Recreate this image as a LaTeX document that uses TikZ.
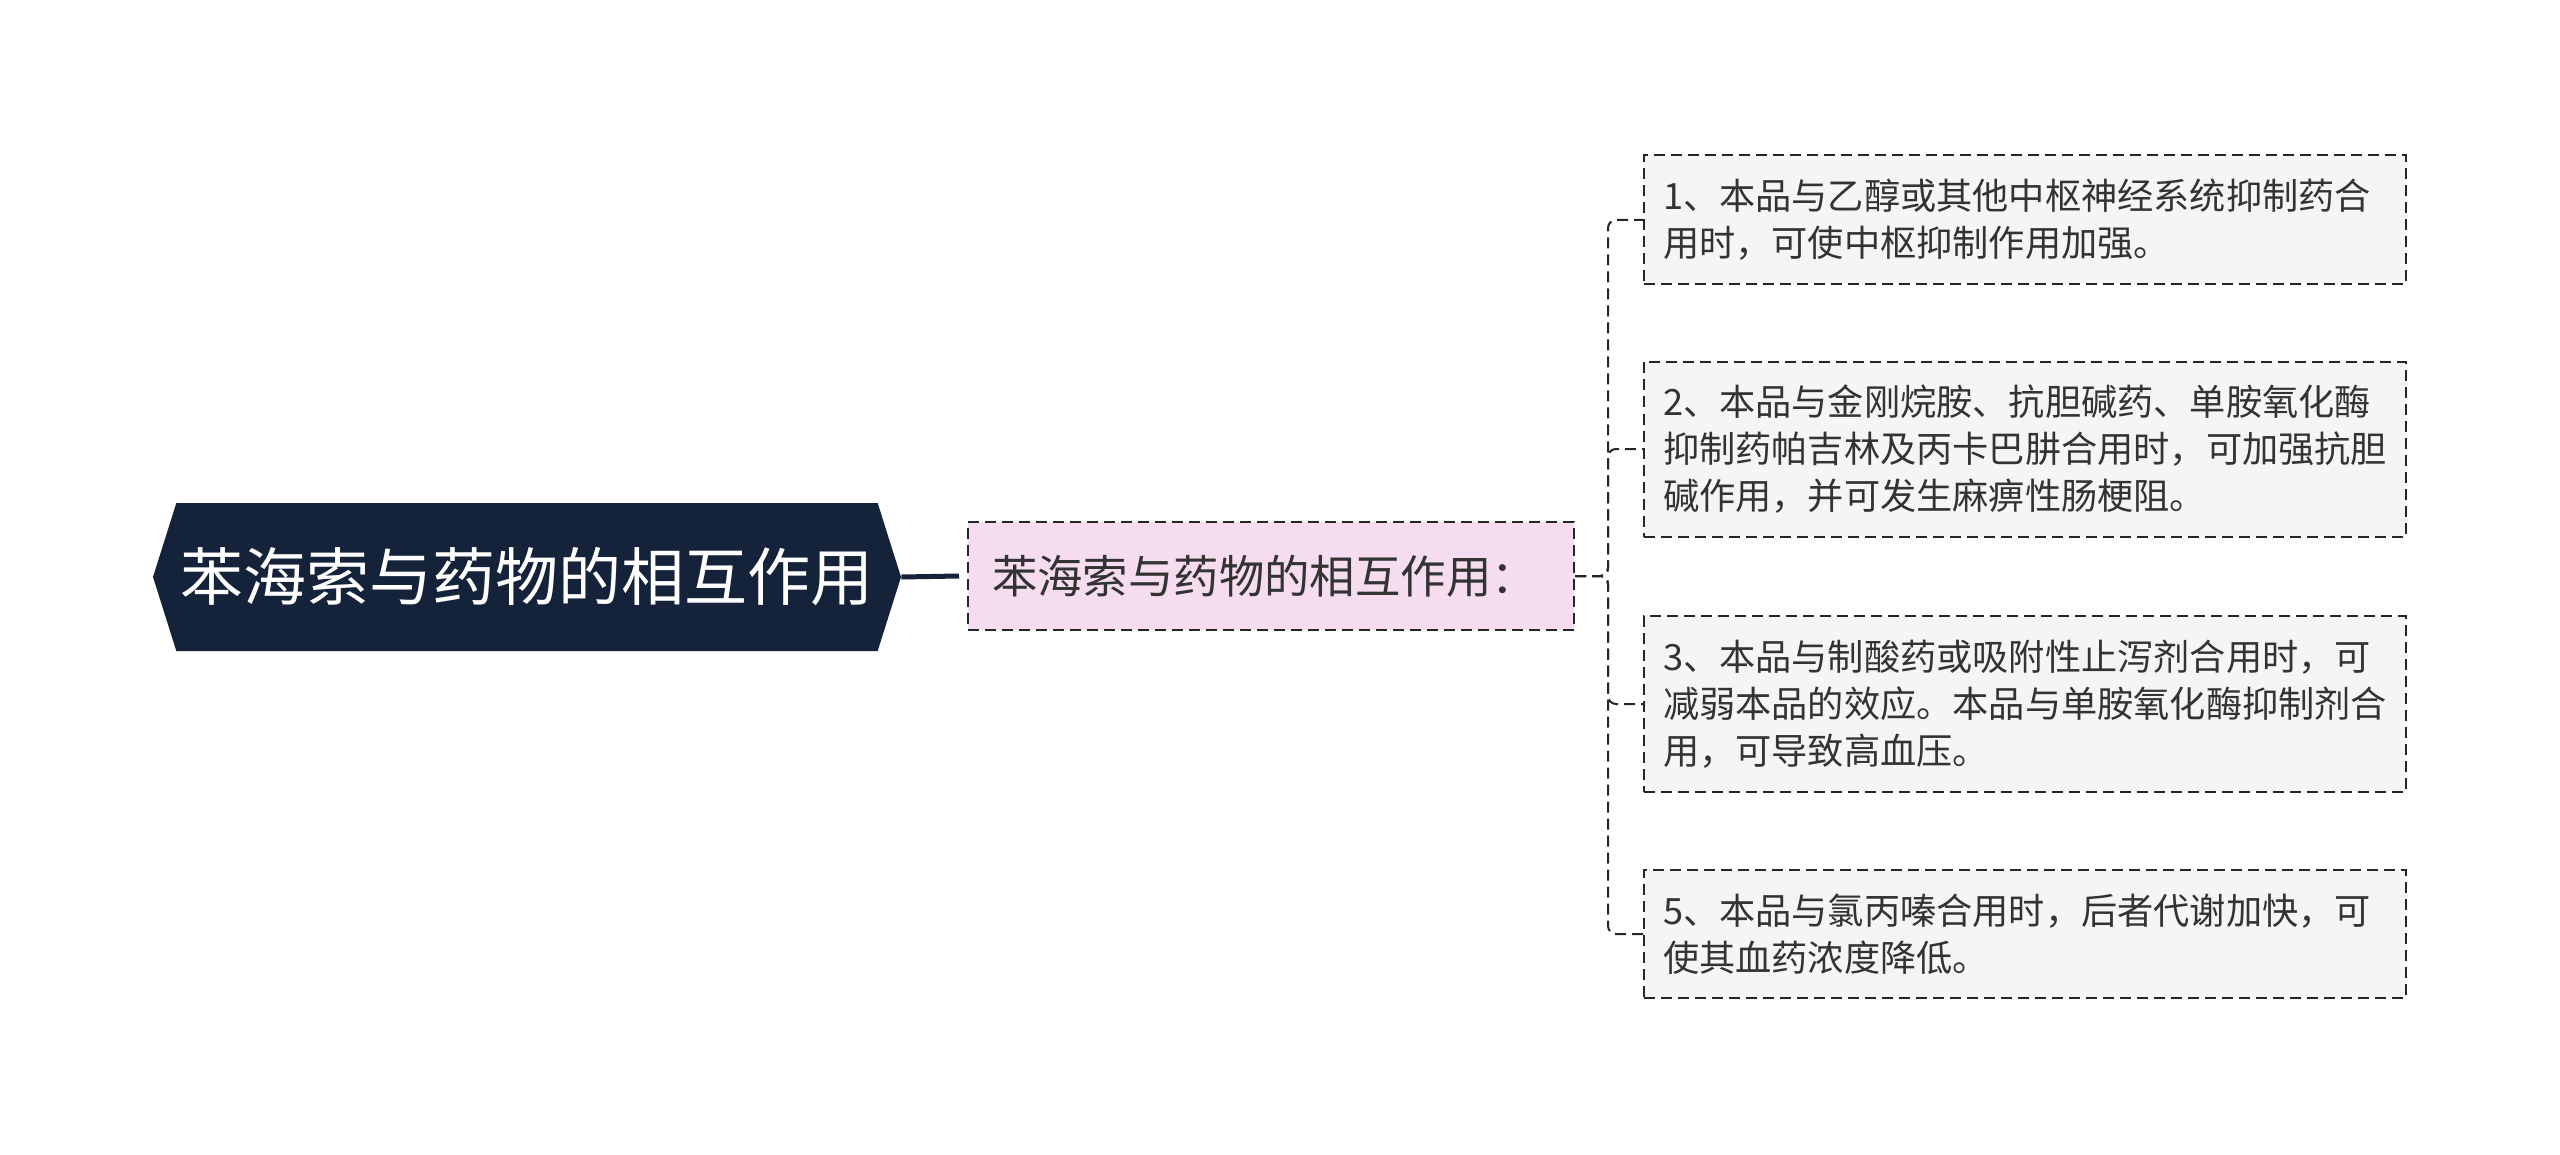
\documentclass[tikz,border=0pt]{standalone}
\usepackage{fontspec}
\newfontfamily\cjk{Noto Sans CJK SC}
\usetikzlibrary{shapes.symbols}
\definecolor{rootfill}{HTML}{15233A}
\definecolor{midfill}{HTML}{F5DCEF}
\definecolor{leaffill}{HTML}{F5F5F5}
\definecolor{txt}{HTML}{333333}
\tikzset{
  root/.style={
    signal,signal to=east and west,signal pointer angle=145,
    fill=rootfill,text=white,inner sep=0pt,
    minimum width=374pt,minimum height=74pt,
    font=\cjk\fontsize{31.5}{36}\selectfont,
  },
  box/.style={draw=black!85,line width=1pt,dash pattern=on 5.5pt off 3pt,text=txt},
  mid/.style={box,fill=midfill,inner xsep=12pt,inner ysep=0pt,text width=279pt,align=left,
    minimum height=54pt,font=\cjk\fontsize{22.7}{27}\selectfont},
  leaf/.style={box,fill=leaffill,anchor=west,align=left,text width=362pt,inner xsep=9.5pt,
    inner ysep=0pt,font=\cjk\fontsize{18.1}{23.5}\selectfont},
  trunk/.style={draw=rootfill,line width=2.5pt},
  link/.style={draw=black!85,line width=1pt,dash pattern=on 5.5pt off 3pt,rounded corners=4pt},
}

\begin{document}
\begin{tikzpicture}[x=0.5pt,y=-0.5pt]
  \useasboundingbox (0,0) rectangle (2560,1155);

  \node[root] (root) at (527,577) {苯海索与药物的相互作用};
  \node[mid] (mid) at (1271,576) {苯海索与药物的相互作用：};

  \node[leaf,minimum height=64.5pt] (l1) at (1643,220)
    {1、本品与乙醇或其他中枢神经系统抑制药合\\用时，可使中枢抑制作用加强。};
  \node[leaf,minimum height=87.5pt] (l2) at (1643,449)
    {2、本品与金刚烷胺、抗胆碱药、单胺氧化酶\\抑制药帕吉林及丙卡巴肼合用时，可加强抗胆\\碱作用，并可发生麻痹性肠梗阻。};
  \node[leaf,minimum height=88pt] (l3) at (1643,704)
    {3、本品与制酸药或吸附性止泻剂合用时，可\\减弱本品的效应。本品与单胺氧化酶抑制剂合\\用，可导致高血压。};
  \node[leaf,minimum height=64pt] (l5) at (1643,934)
    {5、本品与氯丙嗪合用时，后者代谢加快，可\\使其血药浓度降低。};

  \coordinate (fork) at (1608,576);

  \draw[trunk] (root.east) -- ([xshift=-4pt]mid.west);
  \foreach \l in {l1,l2,l3,l5}
    \draw[link] (mid.east) -- (fork) |- (\l.west);
\end{tikzpicture}
\end{document}
